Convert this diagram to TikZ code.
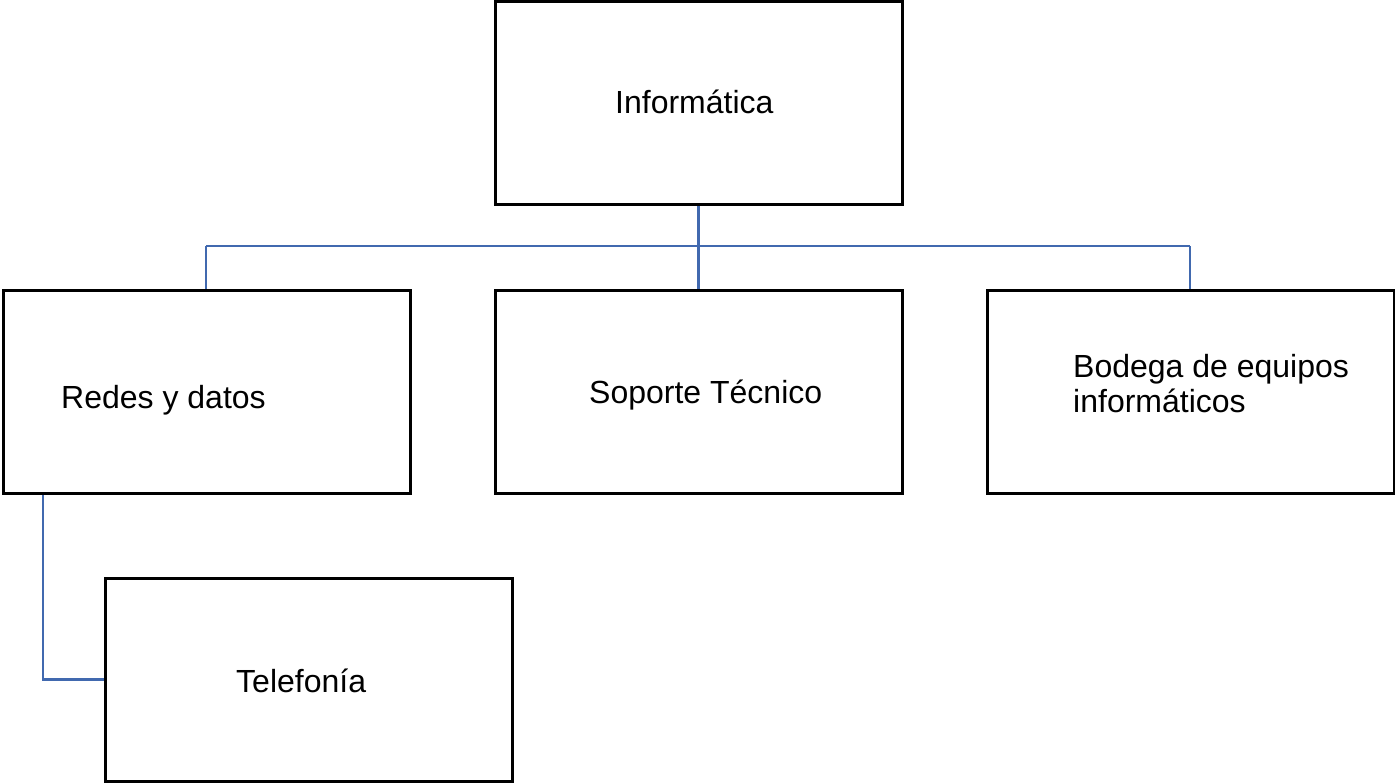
\documentclass[tikz,border=0pt]{standalone}
\usepackage{fontspec}
\setmainfont{Liberation Sans}
\definecolor{conn}{RGB}{65,105,175}
\begin{document}
\begin{tikzpicture}[x=1pt,y=-1pt,
  box/.style={draw=black,line width=3pt,fill=white,minimum width=407pt,minimum height=203pt,inner sep=0pt,outer sep=0pt,anchor=north west},
  conline/.style={draw=conn,line width=2.5pt},
  lbl/.style={anchor=base west,inner sep=0pt,font=\fontsize{32}{36}\selectfont}]
\useasboundingbox (0,0) rectangle (1395,784);
% boxes
\node[box] (infbox) at (495,1.5) {};
\node[box] (redbox) at (3,290) {};
\node[box] (sopbox) at (495,290) {};
\node[box] (bodbox) at (987,290) {};
\node[box] (telbox) at (105,578) {};
% connectors
\coordinate (j) at (infbox.south |- 0,246);
\coordinate (jl) at (206,246);
\coordinate (jr) at (1190,246);
\coordinate (tc) at (telbox.west -| 43,0);
\draw[conline] (infbox.south) -- (j);
\draw[conline] (jl) -- (jr);
\draw[conline] (jl) -- (redbox.north -| jl);
\draw[conline] (j) -- (sopbox.north);
\draw[conline] (jr) -- (bodbox.north -| jr);
\draw[conline] (redbox.south -| tc) -- (tc) -- (telbox.west);
\foreach \b in {infbox,redbox,sopbox,bodbox,telbox} \draw[line width=3pt] (\b.north west) rectangle (\b.south east);
% labels
\node[lbl] (inf) at (615,113) {Informática};
\node[lbl] (red) at (61,408) {Redes y datos};
\node[lbl] (sop) at (589,403) {Soporte Técnico};
\node[lbl] (bod1) at (1073,377) {Bodega de equipos};
\node[lbl] (bod2) at (1073,412) {informáticos};
\node[lbl] (tel) at (236,692) {Telefonía};
\end{tikzpicture}
\end{document}
